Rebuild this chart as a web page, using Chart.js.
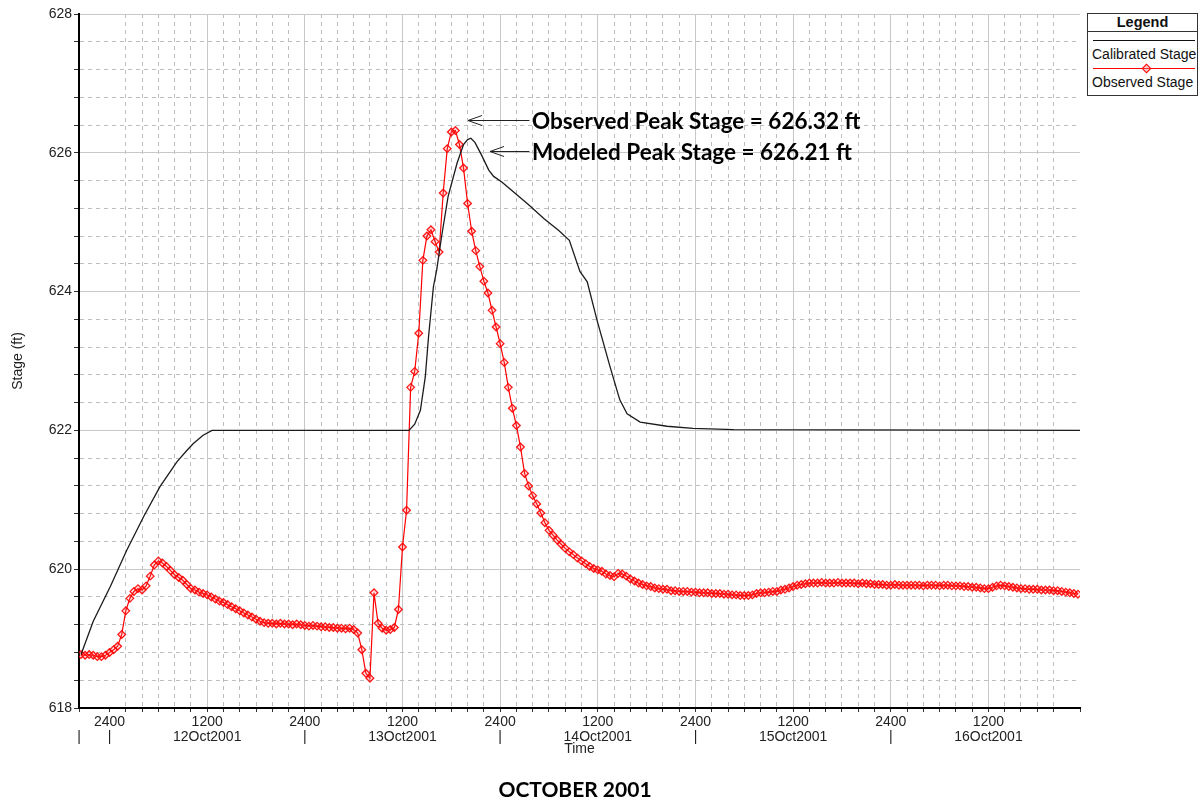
<!DOCTYPE html>
<html lang="en">
<head>
    <meta charset="UTF-8">
    <title>Stage hydrograph - October 2001</title>
    <script src="https://cdn.jsdelivr.net/npm/chart.js"></script>
    <style>
        body {
            margin: 0;
            background: #fff;
        }
        #wrap {
            position: relative;
            width: 1199px;
            height: 801px;
        }
        .legend {
            position: absolute;
            left: 1087px;
            top: 13px;
            width: 109px;
            height: 81px;
            border: 1px solid #333;
            background: #fff;
            font-family: "Liberation Sans", Arial, sans-serif;
            color: #111;
        }
        .legend .head {
            height: 17px;
            border-bottom: 1px solid #333;
            font-weight: bold;
            font-size: 14.5px;
            line-height: 16px;
            text-align: center;
        }
        .legend .sample {
            position: absolute;
            left: 5px;
            width: 102px;
            height: 0;
            border-top: 1px solid #111;
        }
        .legend .sample.red {
            border-top-color: #f00;
        }
        .legend .diamond {
            position: absolute;
            left: 50px;
            top: -4px;
            width: 5px;
            height: 5px;
            border: 1px solid #f00;
            background: rgba(255, 120, 120, 0.4);
            transform: rotate(45deg);
        }
        .legend .label {
            position: absolute;
            left: 4px;
            font-size: 14px;
            line-height: 16px;
            white-space: nowrap;
        }
        .caption {
            position: absolute;
            left: 375px;
            width: 400px;
            top: 777px;
            text-align: center;
            font-family: Lato, "Open Sans", sans-serif;
            font-weight: bold;
            font-size: 21px;
            line-height: 24px;
            color: #000;
        }
    </style>
</head>
<body>
<div id="wrap">
    <canvas id="stageChart" width="1199" height="801"></canvas>

    <div class="legend">
        <div class="head">Legend</div>
        <div class="sample" style="top:26px"></div>
        <div class="label" style="top:32px">Calibrated Stage</div>
        <div class="sample red" style="top:54px"><span class="diamond"></span></div>
        <div class="label" style="top:60px">Observed Stage</div>
    </div>

    <div class="caption">OCTOBER 2001</div>
</div>

<script>
    // time is in hours from 12Oct2001 00:00 (the first "2400" mark)
    const X_MIN = -3.75;
    const X_MAX = 119.25;

    // observed gauge readings, every half hour from 11Oct 20:30
    const obsStartHour = -3.5;
    const obsStepHours = 0.5;
    const observedStage = [
        618.77, 618.76, 618.77, 618.76, 618.74, 618.74, 618.76, 618.80, 618.84, 618.89, 619.06, 619.40,
        619.58, 619.68, 619.72, 619.70, 619.76, 619.90, 620.06, 620.12, 620.09, 620.04, 619.98, 619.92,
        619.88, 619.84, 619.78, 619.72, 619.70, 619.67, 619.65, 619.63, 619.60, 619.57, 619.54, 619.52,
        619.49, 619.46, 619.43, 619.40, 619.37, 619.34, 619.31, 619.28, 619.25, 619.23, 619.22, 619.22,
        619.21, 619.22, 619.21, 619.21, 619.20, 619.21, 619.20, 619.19, 619.18, 619.19, 619.18, 619.17,
        619.17, 619.16, 619.16, 619.15, 619.15, 619.14, 619.15, 619.13, 619.08, 618.84, 618.50, 618.43,
        619.66, 619.22, 619.15, 619.12, 619.13, 619.16, 619.42, 620.32, 620.85, 622.62, 622.85, 623.40,
        624.45, 624.80, 624.89, 624.72, 624.57, 625.42, 626.06, 626.30, 626.32, 626.12, 625.78, 625.27,
        624.87, 624.59, 624.36, 624.15, 623.98, 623.73, 623.49, 623.25, 622.98, 622.62, 622.32, 622.07,
        621.76, 621.38, 621.20, 621.06, 620.94, 620.81, 620.67, 620.56, 620.49, 620.42, 620.36, 620.30,
        620.25, 620.21, 620.16, 620.12, 620.08, 620.04, 620.01, 619.99, 619.97, 619.93, 619.91, 619.89,
        619.94, 619.93, 619.90, 619.86, 619.83, 619.80, 619.78, 619.76, 619.75, 619.73, 619.72, 619.71,
        619.71, 619.69, 619.69, 619.68, 619.68, 619.68, 619.67, 619.67, 619.66, 619.66, 619.66, 619.65,
        619.65, 619.65, 619.64, 619.64, 619.63, 619.63, 619.62, 619.62, 619.62, 619.63, 619.65, 619.66,
        619.66, 619.67, 619.68, 619.68, 619.70, 619.71, 619.73, 619.75, 619.77, 619.78, 619.79, 619.80,
        619.80, 619.80, 619.81, 619.80, 619.80, 619.80, 619.81, 619.80, 619.80, 619.80, 619.80, 619.79,
        619.80, 619.79, 619.79, 619.78, 619.78, 619.78, 619.77, 619.77, 619.78, 619.77, 619.77, 619.77,
        619.77, 619.77, 619.77, 619.76, 619.77, 619.77, 619.77, 619.76, 619.77, 619.77, 619.76, 619.76,
        619.76, 619.75, 619.75, 619.74, 619.74, 619.73, 619.72, 619.72, 619.74, 619.76, 619.77, 619.76,
        619.75, 619.74, 619.73, 619.72, 619.72, 619.71, 619.71, 619.71, 619.70, 619.70, 619.70, 619.69,
        619.69, 619.68, 619.67, 619.66, 619.65, 619.64
    ];

    // calibrated model output (breakpoints of the smooth line)
    const calibratedHours = [
        -3.5, -2.0, 0.1, 2.1, 4.2, 6.2, 8.3, 9.5, 10.3, 11.5, 12.6,
        36.8, 37.5, 38.2, 38.8, 39.2, 39.8, 40.2, 40.8, 41.6, 42.7, 43.5, 44.0, 44.4,
        44.9, 45.7, 46.6, 47.2, 48.2, 49.8, 51.5, 53.4, 55.2, 56.5, 57.8, 58.7, 59.9,
        61.5, 62.7, 63.6, 65.2, 68.5, 71.7, 76.7, 119.25
    ];
    const calibratedStage = [
        618.77, 619.25, 619.75, 620.27, 620.76, 621.19, 621.55, 621.71, 621.81, 621.93, 622.00,
        622.00, 622.09, 622.29, 622.77, 623.35, 624.07, 624.31, 624.79, 625.37, 625.85, 626.12, 626.19, 626.21,
        626.15, 625.97, 625.75, 625.66, 625.58, 625.42, 625.25, 625.05, 624.88, 624.74, 624.29, 624.14, 623.59,
        622.92, 622.44, 622.24, 622.12, 622.06, 622.03, 622.01, 622.00
    ];

    const dayLabels = ['12Oct2001', '13Oct2001', '14Oct2001', '15Oct2001', '16Oct2001'];

    const peakNotes = [
        { text: 'Observed Peak Stage = 626.32 ft', tipHour: 44.05, tipStage: 626.47 },
        { text: 'Modeled Peak Stage = 626.21 ft', tipHour: 46.75, tipStage: 626.03 }
    ];
    const noteTailHour = 51.6;
    const noteTextHour = 51.9;

    const MAJOR_GRID = 'rgb(200,200,200)';
    const MINOR_GRID = 'rgb(190,190,190)';
    const NONE = 'rgba(0,0,0,0)';
    const tickFont = { family: "'Liberation Sans', Arial, sans-serif", size: 14, lineHeight: 1.1 };

    const isMajorHour = v => v % 12 === 0;
    const isMajorStage = v => Math.abs(v / 2 - Math.round(v / 2)) < 1e-6;

    function hourLabel(v) {
        if (v === X_MIN) return ['', '|'];
        if (v % 24 === 0) return ['2400', '|'];
        if (v % 12 === 0) return ['1200', dayLabels[Math.floor(v / 24)]];
        return '';
    }

    const peakNotePlugin = {
        id: 'peakNotes',
        afterDatasetsDraw(chart) {
            const { ctx, scales: { x, y } } = chart;
            ctx.save();
            ctx.strokeStyle = '#222';
            ctx.fillStyle = '#000';
            ctx.lineWidth = 1;
            ctx.font = "bold 22.5px Lato, 'Open Sans', sans-serif";
            ctx.textBaseline = 'alphabetic';
            peakNotes.forEach(n => {
                const tx = x.getPixelForValue(n.tipHour);
                const ty = Math.round(y.getPixelForValue(n.tipStage)) + 0.5;
                const tail = x.getPixelForValue(noteTailHour);
                ctx.beginPath();
                ctx.moveTo(tail, ty);
                ctx.lineTo(tx, ty);
                ctx.moveTo(tx + 14, ty - 5);
                ctx.lineTo(tx, ty);
                ctx.lineTo(tx + 14, ty + 5);
                ctx.stroke();
                ctx.fillText(n.text, x.getPixelForValue(noteTextHour), ty + 8);
            });
            ctx.restore();
        }
    };

    const ctx = document.getElementById('stageChart').getContext('2d');

    const stageChart = new Chart(ctx, {
        type: 'line',
        data: {
            datasets: [
                {
                    label: 'Calibrated Stage',
                    data: calibratedHours.map((h, i) => ({ x: h, y: calibratedStage[i] })),
                    borderColor: '#1c1c1c',
                    borderWidth: 1.3,
                    pointRadius: 0,
                    tension: 0,
                    xAxisID: 'x',
                    yAxisID: 'y'
                },
                {
                    label: 'Observed Stage',
                    data: observedStage.map((v, i) => ({ x: obsStartHour + i * obsStepHours, y: v })),
                    borderColor: '#ff0000',
                    borderWidth: 1.2,
                    pointStyle: 'rectRot',
                    pointRadius: 3.8,
                    pointBorderWidth: 1.3,
                    pointBorderColor: 'rgba(255,0,0,0.9)',
                    pointBackgroundColor: 'rgba(255,80,80,0.18)',
                    tension: 0,
                    xAxisID: 'x',
                    yAxisID: 'y'
                }
            ]
        },
        options: {
            responsive: false,
            animation: false,
            devicePixelRatio: 1,
            layout: { padding: { top: 14, right: 119, bottom: 0, left: 0 } },
            plugins: {
                legend: { display: false },
                tooltip: { enabled: false }
            },
            scales: {
                x: {
                    type: 'linear',
                    position: 'bottom',
                    weight: 1,
                    min: X_MIN,
                    max: X_MAX,
                    afterFit: s => { s.height = 93; },
                    ticks: {
                        stepSize: 2,
                        autoSkip: false,
                        maxRotation: 0,
                        minRotation: 0,
                        padding: 2,
                        color: '#222',
                        font: tickFont,
                        callback: v => hourLabel(v)
                    },
                    grid: {
                        color: c => (c.tick && (isMajorHour(c.tick.value) || c.tick.value === X_MIN || c.tick.value === X_MAX)) ? NONE : MINOR_GRID,
                        tickColor: '#333',
                        tickLength: 4,
                        lineWidth: 1
                    },
                    border: { display: true, color: '#000', width: 2, dash: [4, 4] },
                    title: {
                        display: true,
                        text: 'Time',
                        color: '#222',
                        font: { family: "'Liberation Sans', Arial, sans-serif", size: 14 },
                        padding: { top: 0, bottom: 43 }
                    }
                },
                x2: {
                    type: 'linear',
                    position: 'bottom',
                    weight: 0,
                    min: X_MIN,
                    max: X_MAX,
                    afterFit: s => { s.height = 0; },
                    ticks: { display: false, stepSize: 12, autoSkip: false },
                    grid: {
                        color: c => (c.tick && isMajorHour(c.tick.value)) ? MAJOR_GRID : NONE,
                        drawTicks: false,
                        lineWidth: 1
                    },
                    border: { display: false }
                },
                y: {
                    type: 'linear',
                    position: 'left',
                    weight: 1,
                    min: 618,
                    max: 628,
                    afterFit: s => { s.width = 79; },
                    ticks: {
                        stepSize: 0.4,
                        autoSkip: false,
                        padding: 2,
                        color: '#222',
                        font: tickFont,
                        callback: v => isMajorStage(v) ? String(Math.round(v)) : ''
                    },
                    grid: {
                        color: c => (c.tick && isMajorStage(c.tick.value)) ? NONE : MINOR_GRID,
                        tickColor: '#333',
                        tickLength: 5,
                        lineWidth: 1
                    },
                    border: { display: true, color: '#000', width: 2, dash: [4, 4] },
                    title: {
                        display: true,
                        text: 'Stage (ft)',
                        color: '#222',
                        font: { family: "'Liberation Sans', Arial, sans-serif", size: 14 },
                        padding: { top: 10, bottom: 0 }
                    }
                },
                y2: {
                    type: 'linear',
                    position: 'left',
                    weight: 0,
                    min: 618,
                    max: 628,
                    afterFit: s => { s.width = 0; },
                    ticks: { display: false, stepSize: 2, autoSkip: false },
                    grid: {
                        color: c => (c.tick && isMajorStage(c.tick.value)) ? MAJOR_GRID : NONE,
                        drawTicks: false,
                        lineWidth: 1
                    },
                    border: { display: false }
                }
            }
        },
        plugins: [peakNotePlugin]
    });
</script>
</body>
</html>
